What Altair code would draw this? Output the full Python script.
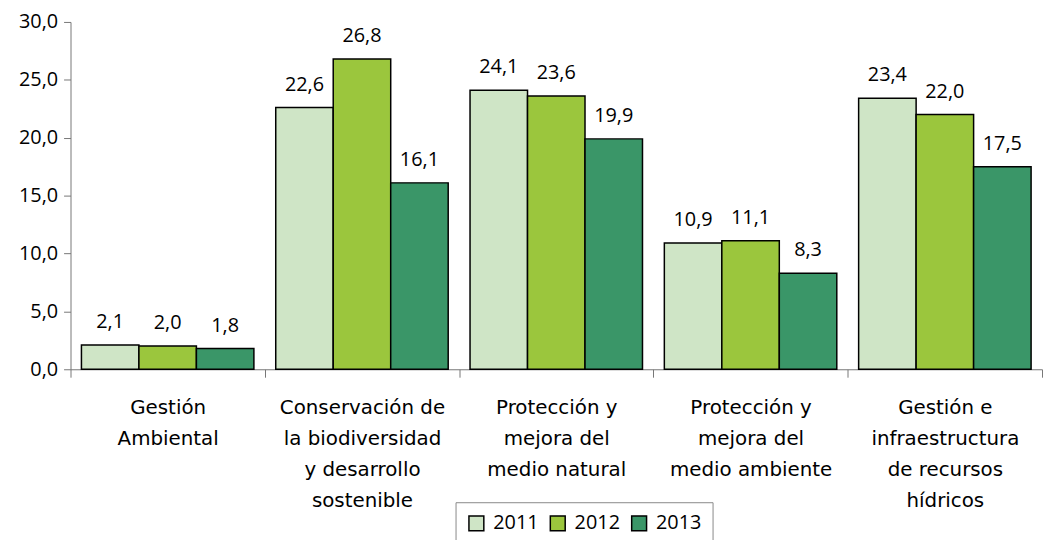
import altair as alt
import pandas as pd

categories = [
    "Gestión|Ambiental",
    "Conservación de|la biodiversidad|y desarrollo|sostenible",
    "Protección y|mejora del|medio natural",
    "Protección y|mejora del|medio ambiente",
    "Gestión e|infraestructura|de recursos|hídricos",
]
years = ["2011", "2012", "2013"]
v2011 = [2.1, 22.6, 24.1, 10.9, 23.4]
v2012 = [2.0, 26.8, 23.6, 11.1, 22.0]
v2013 = [1.8, 16.1, 19.9, 8.3, 17.5]
colors = ["#cfe5c6", "#9bc63d", "#3a9668"]

rows = []
for yr, vals in zip(years, [v2011, v2012, v2013]):
    for c, v in zip(categories, vals):
        rows.append({"cat": c, "year": yr, "value": v})
df = pd.DataFrame(rows)

FONT = "Open Sans"

x = alt.X("cat:N", sort=categories, title=None,
          scale=alt.Scale(paddingInner=0, paddingOuter=0),
          axis=alt.Axis(labelExpr="split(datum.label, '|')", labelAngle=0,
                        labelFontSize=20, labelFont="DejaVu Sans", labelColor="#000",
                        labelLineHeight=31, labelPadding=21, labelBaseline="top",
                        tickBand="extent", tickSize=8, tickColor="#777",
                        domainColor="#777", labelLimit=300))
xo = alt.XOffset("year:N", sort=years,
                 scale=alt.Scale(paddingInner=0, paddingOuter=0.19))

base = alt.Chart(df)

bars = base.mark_bar(stroke="black", strokeWidth=1.5).encode(
    x=x,
    xOffset=xo,
    y=alt.Y("value:Q", title=None,
            scale=alt.Scale(domain=[0, 30], nice=False),
            axis=alt.Axis(values=[0, 5, 10, 15, 20, 25, 30],
                          labelExpr="replace(format(datum.value, '.1f'), '.', ',')",
                          labelFontSize=20, labelFont=FONT, labelColor="#000",
                          grid=False, tickSize=7, tickColor="#777",
                          domainColor="#777", labelPadding=6)),
    color=alt.Color("year:N", sort=years, title=None,
                    scale=alt.Scale(domain=years, range=colors),
                    legend=alt.Legend(orient="none", legendX=388, legendY=484,
                                      direction="horizontal", symbolType="square",
                                      symbolSize=225, symbolStrokeColor="black",
                                      symbolStrokeWidth=1.5, labelFontSize=20,
                                      labelFont=FONT, labelColor="#000",
                                      strokeColor="#888", padding=11,
                                      columnPadding=8, labelOffset=7)),
)

labels = base.transform_calculate(
    lbl="replace(format(datum.value, '.1f'), '.', ',')"
).mark_text(baseline="alphabetic", dy=-17, fontSize=20, font=FONT, color="#000").encode(
    x=x,
    xOffset=xo,
    y="value:Q",
    text="lbl:N",
)

chart = alt.layer(bars, labels).properties(
    width=979, height=350,
    autosize=alt.AutoSizeParams(type="none"),
    padding={"left": 63, "top": 12, "right": 2, "bottom": 170},
).configure_view(stroke=None)

chart.save("out.html", embed_options={"renderer": "svg", "actions": False})
